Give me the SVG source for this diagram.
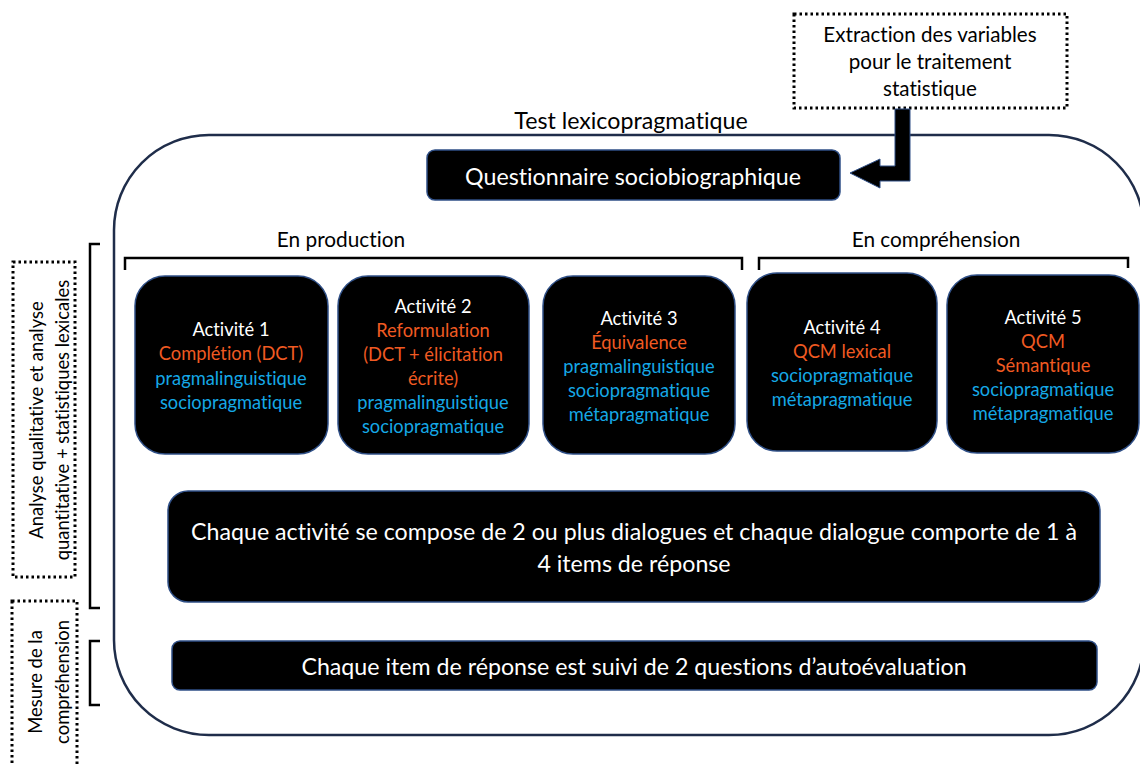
<svg xmlns="http://www.w3.org/2000/svg" width="1140" height="764" viewBox="0 0 1140 764">
<style>
text{font-family:Lato,"Liberation Sans",sans-serif;text-anchor:middle;dominant-baseline:central;font-variant-ligatures:none}
.blk{fill:#000;stroke:#2f4f86;stroke-width:1.5}
.w{fill:#fff}
.o{fill:#f05a22}
.b{fill:#15a8e6}
.k{fill:#000}
.act{font-size:18.3px}
.big{font-size:23.2px}
.dot{fill:none;stroke:#000;stroke-width:3;stroke-dasharray:2.5 3}
.br{fill:none;stroke:#000;stroke-width:2.5}
</style>
<rect width="1140" height="764" fill="#fff"/>
<g id="container">
<rect x="114" y="135" width="1030" height="600" rx="95" fill="none" stroke="#1f2d4a" stroke-width="2.5"/>
<text x="631" y="120" class="k" font-size="23.2">Test lexicopragmatique</text>
</g>
<g id="extraction">
<rect x="794" y="14" width="273" height="94" class="dot"/>
<text x="930" y="34" class="k" font-size="20.6">Extraction des variables</text>
<text x="930" y="61" class="k" font-size="20.6">pour le traitement</text>
<text x="930" y="88" class="k" font-size="20.6">statistique</text>
</g>
<g id="questionnaire">
<rect x="427" y="150" width="413" height="50" rx="8" class="blk"/>
<text x="633" y="176" class="w big">Questionnaire sociobiographique</text>
</g>
<g id="connectors">
<polygon points="895,109 910,109 910,181 880,181 880,188 850,173 880,159 880,166 895,166" fill="#000" stroke="#2f4f86" stroke-width="1"/>
<path class="br" d="M125,270 V258 H742 V270"/>
<path class="br" d="M759,270 V258 H1128 V268"/>
<path class="br" d="M100,244 H90 V608 H100"/>
<path class="br" d="M100,641 H90 V705 H100"/>
</g>
<g id="labels">
<text x="341" y="238" class="k" font-size="20.8">En production</text>
<text x="936" y="238" class="k" font-size="20.8">En compréhension</text>
</g>
<g id="activite1">
<rect x="135" y="276" width="193" height="178" rx="30" class="blk"/>
<text x="231" y="329" class="w act">Activité 1</text>
<text x="231" y="353" class="o act">Complétion (DCT)</text>
<text x="231" y="378" class="b act">pragmalinguistique</text>
<text x="231" y="402" class="b act">sociopragmatique</text>
</g>
<g id="activite2">
<rect x="338" y="276" width="191" height="178" rx="30" class="blk"/>
<text x="433" y="306" class="w act">Activité 2</text>
<text x="433" y="330" class="o act">Reformulation</text>
<text x="433" y="354" class="o act">(DCT + élicitation</text>
<text x="433" y="378" class="o act">écrite)</text>
<text x="433" y="402" class="b act">pragmalinguistique</text>
<text x="433" y="426" class="b act">sociopragmatique</text>
</g>
<g id="activite3">
<rect x="543" y="276" width="192" height="178" rx="30" class="blk"/>
<text x="639" y="318" class="w act">Activité 3</text>
<text x="639" y="342" class="o act">Équivalence</text>
<text x="639" y="366" class="b act">pragmalinguistique</text>
<text x="639" y="390" class="b act">sociopragmatique</text>
<text x="639" y="414" class="b act">métapragmatique</text>
</g>
<g id="activite4">
<rect x="747" y="273" width="190" height="178" rx="30" class="blk"/>
<text x="842" y="327" class="w act">Activité 4</text>
<text x="842" y="351" class="o act">QCM lexical</text>
<text x="842" y="375" class="b act">sociopragmatique</text>
<text x="842" y="399" class="b act">métapragmatique</text>
</g>
<g id="activite5">
<rect x="947" y="275" width="192" height="178" rx="30" class="blk"/>
<text x="1043" y="317" class="w act">Activité 5</text>
<text x="1043" y="341" class="o act">QCM</text>
<text x="1043" y="365" class="o act">Sémantique</text>
<text x="1043" y="389" class="b act">sociopragmatique</text>
<text x="1043" y="413" class="b act">métapragmatique</text>
</g>
<g id="dialogues">
<rect x="168" y="491" width="932" height="111" rx="20" class="blk"/>
<text x="634" y="531" class="w big">Chaque activité se compose de 2 ou plus dialogues et chaque dialogue comporte de 1 à</text>
<text x="634" y="563" class="w big">4 items de réponse</text>
</g>
<g id="items">
<rect x="172" y="641" width="925" height="49" rx="8" class="blk"/>
<text x="634" y="666" class="w big">Chaque item de réponse est suivi de 2 questions d’autoévaluation</text>
</g>
<g id="analyse">
<rect x="13" y="262" width="62" height="315" class="dot"/>
<text transform="translate(36,420) rotate(-90)" class="k" font-size="18.4">Analyse qualitative et analyse</text>
<text transform="translate(62,420) rotate(-90)" class="k" font-size="18.4">quantitative + statistiques lexicales</text>
</g>
<g id="mesure">
<rect x="12" y="601" width="65" height="170" class="dot"/>
<text transform="translate(35,682) rotate(-90)" class="k" font-size="18.4">Mesure de la</text>
<text transform="translate(62,682) rotate(-90)" class="k" font-size="18.4">compréhension</text>
</g>
</svg>
